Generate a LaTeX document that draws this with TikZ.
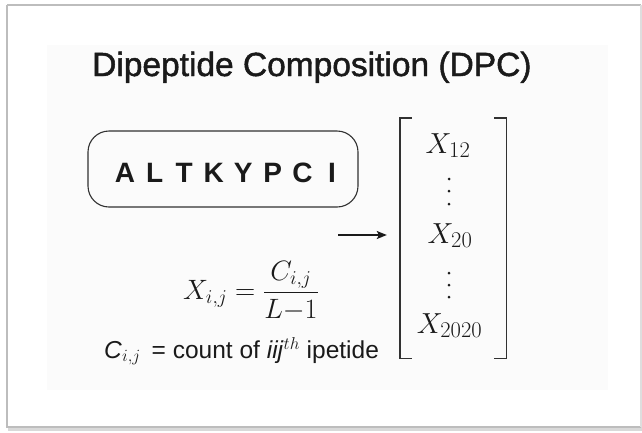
\RequirePackage{fix-cm}
\documentclass[tikz,border=0pt]{standalone}
\usepackage{fontspec}
\setmainfont{Liberation Sans}
\newfontfamily\titlefont{Liberation Sans}[FakeBold=1.4]
\usetikzlibrary{arrows.meta}
\DeclareMathSizes{29}{29}{22.5}{16}
\definecolor{ink}{HTML}{1A1A1A}
\definecolor{panel}{HTML}{FBFBFB}
\definecolor{framegray}{HTML}{BDBDBD}
\tikzset{
  frameline/.style={draw=framegray, line width=1.6pt},
  seqbox/.style={draw=ink!90, line width=1.1pt, rounded corners=21pt, minimum width=270pt, minimum height=76pt, inner sep=0pt},
  seqletter/.style={font=\fontsize{28}{30}\selectfont\bfseries, text=ink, inner sep=0pt, anchor=base},
  bracketline/.style={draw=ink!90, line width=1.4pt},
  mathbig/.style={font=\fontsize{29}{34}\selectfont, text=ink, inner sep=0pt, anchor=base},
  dotmark/.style={fill=ink, circle, inner sep=0pt, minimum size=3pt},
  plaintext/.style={text=ink, inner sep=0pt, anchor=base west},
  arrowline/.style={draw=ink, line width=1.3pt, -{Stealth[length=10pt,width=8pt,inset=2pt]}},
}
\begin{document}
\begin{tikzpicture}[x=1pt,y=-1pt]
\useasboundingbox (0,0) rectangle (642,432);
\fill[white] (0,0) rectangle (642,432);
% outer frame with shadow
\fill[gray!30] (8,427) rectangle (642,431);
\draw[frameline] (7,5) -- (641,5);
\draw[frameline] (7,5) -- (7,427) -- (641,427);
\draw[draw=framegray!50, line width=1.2pt] (641,5) -- (641,427);
% faint inner panel
\fill[panel] (47,45) rectangle (608,390);
% title
\node[plaintext, font=\titlefont\fontsize{33.5}{40}\selectfont] (title) at (92,76) {Dipeptide Composition (DPC)};
% sequence box
\node[seqbox] (seq) at (223,169) {};
\node[seqletter] (letters) at (228.5,182) {\makebox[29.57pt]{A}\makebox[29.57pt]{L}\makebox[29.57pt]{T}\makebox[29.57pt]{K}\makebox[29.57pt]{Y}\makebox[29.57pt]{P}\makebox[29.57pt]{C}\makebox[29.57pt]{I}};
% vector with brackets
\node[minimum width=106pt, minimum height=240pt, inner sep=0pt] (vec) at (453,238) {};
\draw[bracketline] ([xshift=12pt]vec.north west) -- (vec.north west) -- (vec.south west) -- ([xshift=12pt]vec.south west);
\draw[bracketline] ([xshift=-12pt]vec.north east) -- (vec.north east) -- (vec.south east) -- ([xshift=-12pt]vec.south east);
\node[mathbig] (x12) at (448,153) {$X_{12}$};
\node[mathbig] (x20) at (450,243) {$X_{20}$};
\node[mathbig] (x2020) at (449.5,333) {$X_{2020}$};
\foreach \yy [count=\k] in {179,191,204,273,285,297} {
  \node[dotmark] (dot\k) at (449,\yy) {};
}
% arrow
\coordinate (arrstart) at (338,235);
\draw[arrowline, shorten >=13pt] (arrstart) -- (vec.west |- arrstart);
% formula
\node[plaintext, font=\fontsize{28}{34}\selectfont] (formula) at (183,299) {$\displaystyle X_{i,j} = \frac{C_{i,j}}{L{-}1}$};
% definition
\node[plaintext, font=\fontsize{24.5}{30}\selectfont] (cdef) at (104,358) {\textit{C}$_{i,j}$\,\ = count of \textit{iij}$^{th}$ ipetide};
\end{tikzpicture}
\end{document}
